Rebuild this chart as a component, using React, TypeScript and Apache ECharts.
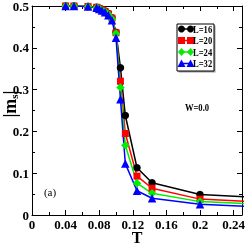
import React, { useEffect, useRef } from "react";
import * as echarts from "echarts";

const T = [0.04, 0.05, 0.0667, 0.0769, 0.08, 0.0833, 0.087, 0.0909, 0.0952, 0.1, 0.1053, 0.1111, 0.125, 0.1429, 0.2, 0.3333];
const L16 = [0.5, 0.5, 0.499, 0.497, 0.495, 0.492, 0.488, 0.482, 0.472, 0.437, 0.352, 0.238, 0.113, 0.077, 0.049, 0.036];
const L20 = [0.5, 0.5, 0.499, 0.497, 0.494, 0.491, 0.487, 0.481, 0.471, 0.436, 0.32, 0.195, 0.093, 0.064, 0.038, 0.025];
const L24 = [0.5, 0.5, 0.499, 0.496, 0.494, 0.49, 0.486, 0.48, 0.469, 0.434, 0.305, 0.167, 0.076, 0.052, 0.032, 0.021];
const L32 = [0.5, 0.5, 0.499, 0.496, 0.493, 0.489, 0.485, 0.478, 0.466, 0.424, 0.277, 0.123, 0.058, 0.04, 0.026, 0.013];

const SERIES_NAMES = ["L=16", "L=20", "L=24", "L=32"];
const SERIES_DATA = [L16, L20, L24, L32];
const COLORS = ["#000000", "#ff0000", "#00ee00", "#0000ff"];
const SYMBOLS = ["circle", "rect", "diamond", "triangle"];

const FONT = '"Liberation Serif", "Times New Roman", serif';

function legendMarker(sym: string, cx: number, cy: number, color: string) {
  const s = 3.5;
  if (sym === "circle") return { type: "circle", shape: { cx, cy, r: s }, style: { fill: color } };
  if (sym === "rect") return { type: "rect", shape: { x: cx - s, y: cy - s, width: 2 * s, height: 2 * s }, style: { fill: color } };
  if (sym === "diamond")
    return { type: "polygon", shape: { points: [[cx, cy - s - 0.5], [cx + s, cy], [cx, cy + s + 0.5], [cx - s, cy]] }, style: { fill: color } };
  return { type: "polygon", shape: { points: [[cx, cy - s - 0.5], [cx + s + 0.5, cy + s], [cx - s - 0.5, cy + s]] }, style: { fill: color } };
}

export default function App() {
  const ref = useRef<HTMLDivElement>(null);
  useEffect(() => {
    const chart = echarts.init(ref.current!, null, { renderer: "svg" });
    const lx = 177, ly = 24, lw = 37, lh = 47;
    const legendEls: any[] = [
      { type: "rect", shape: { x: lx + 1.5, y: ly + 1.5, width: lw, height: lh }, style: { fill: "#999" } },
      { type: "rect", shape: { x: lx, y: ly, width: lw, height: lh }, style: { fill: "#fff", stroke: "#000", lineWidth: 1 } },
    ];
    SERIES_NAMES.forEach((n, i) => {
      const cy = ly + 5 + i * 11.5;
      legendEls.push({ type: "line", shape: { x1: lx + 4.5, y1: cy, x2: lx + 13.5, y2: cy }, style: { stroke: COLORS[i], lineWidth: 1.5 } });
      legendEls.push(legendMarker(SYMBOLS[i], lx + 4.5, cy, COLORS[i]));
      legendEls.push(legendMarker(SYMBOLS[i], lx + 13.5, cy, COLORS[i]));
      legendEls.push({
        type: "text", x: lx + 16, y: cy, scaleX: 0.78,
        style: { text: n, font: `bold 11px ${FONT}`, fill: "#000", verticalAlign: "middle", align: "left" },
      });
    });
    const tickStyle = { lineStyle: { color: "#000", width: 1 } };
    const xBase = {
      type: "value", min: 0, max: 0.25, interval: 0.04,
      axisLine: { show: true, onZero: false, lineStyle: { color: "#000", width: 1 } },
      axisTick: { show: true, inside: true, length: 5, ...tickStyle },
      minorTick: { show: true, splitNumber: 2, length: 3, ...tickStyle },
      splitLine: { show: false },
    };
    const yBase = {
      type: "value", min: 0, max: 0.5, interval: 0.1,
      axisLine: { show: true, onZero: false, lineStyle: { color: "#000", width: 1 } },
      axisTick: { show: true, inside: true, length: 5, ...tickStyle },
      minorTick: { show: true, splitNumber: 2, length: 3, ...tickStyle },
      splitLine: { show: false },
    };
    const fmt = (v: number) => (v === 0 ? "0" : String(+v.toFixed(2)));
    chart.setOption({
      animation: false,
      grid: { left: 32, right: 3, top: 6, bottom: 30, containLabel: false, outerBoundsMode: "none" },
      xAxis: [
        {
          ...xBase, position: "bottom",
          axisLabel: { show: true, showMaxLabel: false, formatter: fmt, margin: 3, fontFamily: FONT, fontWeight: "bold", fontSize: 13, color: "#000" },
        },
        { ...xBase, position: "top", axisLabel: { show: false } },
      ],
      yAxis: [
        {
          ...yBase, position: "left",
          axisLabel: { show: true, formatter: fmt, margin: 3, fontFamily: FONT, fontWeight: "bold", fontSize: 13, color: "#000" },
        },
        { ...yBase, position: "right", axisLabel: { show: false } },
      ],
      graphic: [
        ...legendEls,
        { type: "text", x: 197, y: 107, scaleX: 0.78, style: { text: "W=0.0", font: `bold 11px ${FONT}`, fill: "#000", align: "center", verticalAlign: "middle" } },
        { type: "text", x: 50, y: 192, style: { text: "(a)", font: `11px ${FONT}`, fill: "#000", align: "center", verticalAlign: "middle" } },
        { type: "text", x: 137, y: 245, style: { text: "T", font: `bold 16px ${FONT}`, fill: "#000", align: "center", verticalAlign: "bottom" } },
        {
          type: "text", x: 9.5, y: 104, rotation: Math.PI / 2,
          style: {
            text: "|m{sub|s}|", font: `bold 18px ${FONT}`, fill: "#000", align: "center", verticalAlign: "middle",
            rich: { sub: { font: `bold 11px ${FONT}`, fill: "#000", verticalAlign: "bottom", padding: [8, 0, 0, 0] } },
          },
        },
      ],
      series: SERIES_NAMES.map((n, i) => ({
        name: n, type: "line", xAxisIndex: 0, yAxisIndex: 0,
        data: T.map((t, j) => [t, SERIES_DATA[i][j]]),
        symbol: SYMBOLS[i], symbolSize: SYMBOLS[i] === "rect" ? 7 : SYMBOLS[i] === "circle" ? 7.5 : 8.5,
        showAllSymbol: true, clip: true,
        itemStyle: { color: COLORS[i] },
        lineStyle: { color: COLORS[i], width: 1.5 },
      })),
    });
    return () => chart.dispose();
  }, []);
  return <div ref={ref} style={{ position: "fixed", left: 0, top: 0, width: 245, height: 245 }} />;
}
